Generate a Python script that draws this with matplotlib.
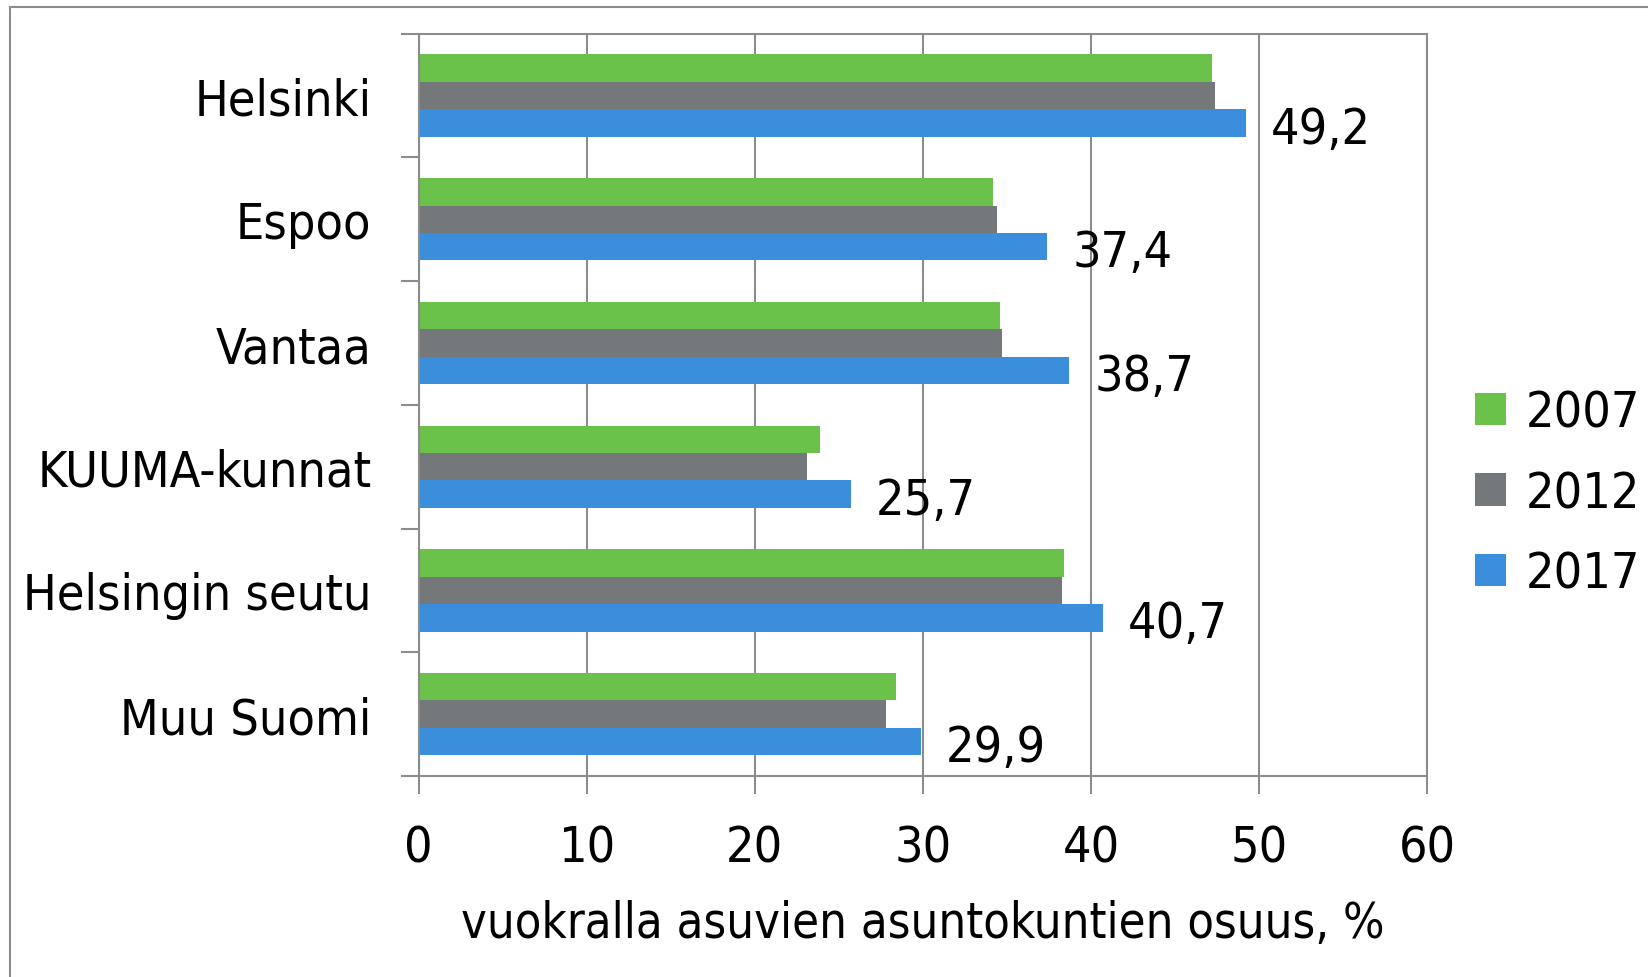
import matplotlib
matplotlib.use("Agg")
import matplotlib.pyplot as plt
from matplotlib.lines import Line2D
import numpy as np

plt.rcParams['font.family'] = ['Liberation Sans Narrow', 'DejaVu Sans']
plt.rcParams['font.stretch'] = 'condensed'

# data
categories = ['Helsinki', 'Espoo', 'Vantaa', 'KUUMA-kunnat', 'Helsingin seutu', 'Muu Suomi']
years = ['2007', '2012', '2017']
v2007 = [47.2, 34.2, 34.6, 23.9, 38.4, 28.4]
v2012 = [47.4, 34.4, 34.7, 23.1, 38.3, 27.8]
v2017 = [49.2, 37.4, 38.7, 25.7, 40.7, 29.9]
xticks = [0, 10, 20, 30, 40, 50, 60]
xlabel = 'vuokralla asuvien asuntokuntien osuus, %'

colors = ['#6BC24B', '#75787B', '#3B8EDB']
grid_col = '#8C8C8C'

fig = plt.figure(figsize=(16.48, 9.78), dpi=100)
ax = fig.add_axes([0.254, 0.2055, 0.612, 0.759])

n = len(categories)
pos = np.arange(n)[::-1]
h = 0.222
series = [v2007, v2012, v2017]
offs = [h, 0, -h]
for vals, off, col, lab in zip(series, offs, colors, years):
    ax.barh(pos + off, vals, height=h, color=col, label=lab, zorder=3)

# labels for 2017 only
for p, v in zip(pos, v2017):
    ax.annotate(('%.1f' % v).replace('.', ','), (v, p - h), xytext=(18, -4),
                textcoords='offset points', va='center', ha='left', fontsize=36)

ax.set_xlim(0, 60)
ax.set_ylim(-0.5, n - 0.5)
ax.set_xticks(xticks)
ax.set_xticklabels([str(t) for t in xticks], fontsize=36)
ax.set_yticks(np.arange(-0.5, n, 1.0))
ax.set_yticklabels([])
ax.set_yticks(pos, minor=True)
ax.set_yticklabels(categories, minor=True, fontsize=36)
ax.tick_params(axis='y', which='minor', length=0, pad=34)
ax.tick_params(axis='y', which='major', length=13, width=1.5, color=grid_col)
ax.tick_params(axis='x', length=13, width=1.5, color=grid_col, pad=21)

ax.xaxis.grid(True, color=grid_col, linewidth=1.5, zorder=0)
for s in ax.spines.values():
    s.set_color(grid_col)
    s.set_linewidth(1.5)
ax.spines['left'].set_zorder(4)

ax.set_xlabel(xlabel, fontsize=35, labelpad=20)

ax.legend(loc='center left', bbox_to_anchor=(1.003, 0.381), frameon=False, fontsize=36,
          handlelength=0.62, handleheight=0.62, handletextpad=0.4, labelspacing=0.65)

# outer frame
fig.add_artist(Line2D([10 / 1648, 1.0], [1 - 8 / 978, 1 - 8 / 978], color=grid_col, lw=1.5))
fig.add_artist(Line2D([10 / 1648, 10 / 1648], [0, 1 - 8 / 978], color=grid_col, lw=1.5))

fig.savefig('out.png', dpi=100)
